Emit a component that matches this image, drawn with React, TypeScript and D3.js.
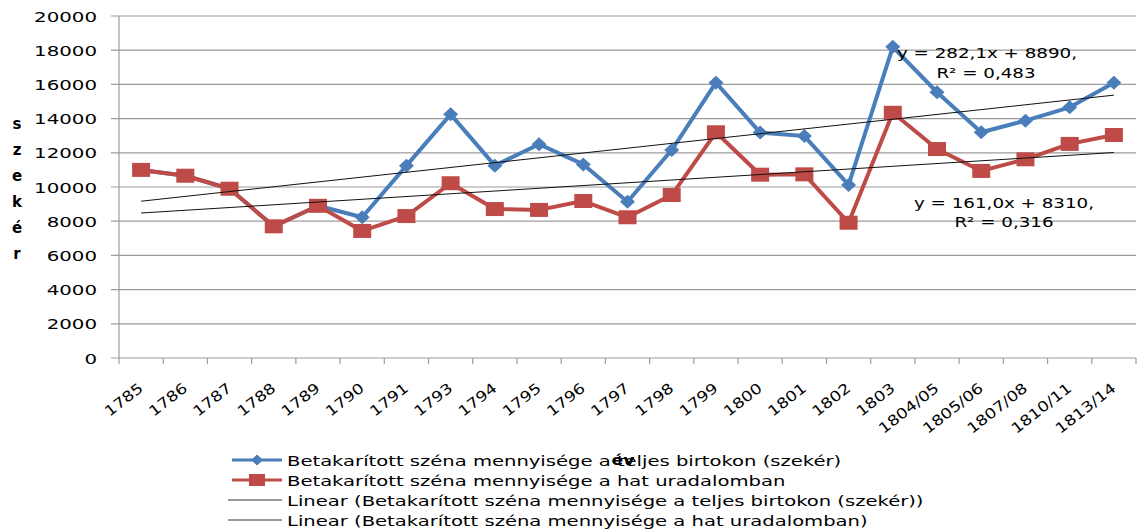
import React from "react";
import * as d3 from "d3";

const categories = ["1785","1786","1787","1788","1789","1790","1791","1793","1794","1795","1796","1797","1798","1799","1800","1801","1802","1803","1804/05","1805/06","1807/08","1810/11","1813/14"];
const fullEstate = [11000,10660,9900,7700,8900,8230,11250,14250,11250,12500,11320,9140,12160,16100,13180,12980,10120,18200,15540,13200,13880,14660,16100];
const sixDomains = [11000,10660,9900,7700,8900,7430,8300,10220,8710,8660,9180,8230,9530,13200,10720,10740,7910,14340,12220,10940,11620,12520,13040];
const yTicks = [0,2000,4000,6000,8000,10000,12000,14000,16000,18000,20000];
const yTitle = ["s","z","e","k","é","r"];
const xTitle = "év";
const seriesNames = [
  "Betakarított széna mennyisége a teljes birtokon (szekér)",
  "Betakarított széna mennyisége a hat uradalomban",
  "Linear (Betakarított széna mennyisége a teljes birtokon (szekér))",
  "Linear (Betakarított széna mennyisége a hat uradalomban)",
];
const eqFull = ["y = 282,1x + 8890,", "R² = 0,483"];
const eqSix = ["y = 161,0x + 8310,", "R² = 0,316"];

const W = 1137, H = 532;
const BLUE = "#4a7ebb", RED = "#be4b48";
const FONT = "DejaVu Sans";
const SX = 1.375;
const FS = 14.4;

function regress(vals: number[]) {
  const xs = vals.map((_, i) => i + 1);
  const mx = d3.mean(xs)!, my = d3.mean(vals)!;
  const b = d3.sum(xs.map((x, i) => (x - mx) * (vals[i] - my))) / d3.sum(xs.map(x => (x - mx) ** 2));
  const a = my - b * mx;
  return (x: number) => a + b * x;
}

function SText(props: any) {
  const { x, y, sx = SX, rotate, anchor = "start", size = FS, weight = "normal", children } = props;
  return (
    <text
      transform={`translate(${x},${y})${rotate ? ` rotate(${rotate})` : ""} scale(${sx},1)`}
      textAnchor={anchor}
      fontFamily={FONT}
      fontSize={size}
      fontWeight={weight}
      fill="#000"
    >
      {children}
    </text>
  );
}

export default function App() {
  const x = d3.scaleBand<string>().domain(categories).range([119, 1136]);
  const cx = (c: string) => x(c)! + x.bandwidth() / 2;
  const y = d3.scaleLinear().domain([0, 20000]).range([358, 16]);
  const line = d3.line<number>().x((_, i) => cx(categories[i])).y(v => y(v));
  const fFull = regress(fullEstate);
  const fSix = regress(sixDomains);
  const n = categories.length;
  const trend = (f: (x: number) => number) =>
    d3.line<number>().x(i => cx(categories[i - 1])).y(i => y(f(i)))([1, n]) || "";

  const diamond = (px: number, py: number, w = 7.5, h = 7) =>
    `M${px},${py - h}L${px + w},${py}L${px},${py + h}L${px - w},${py}Z`;

  const boundaries = [...categories.map(c => x(c)!), 1136];

  return (
    <svg width={W} height={H} style={{ position: "absolute", left: 0, top: 0, background: "#fff" }}>
      {/* gridlines */}
      {yTicks.map(t => (
        <line key={t} x1={111} x2={1136} y1={y(t)} y2={y(t)} stroke="#9c9c9c" strokeWidth={1.2} />
      ))}
      {/* y axis */}
      <line x1={119} x2={119} y1={16} y2={358} stroke="#9c9c9c" strokeWidth={1.2} />
      {boundaries.map((b, i) => (
        <line key={i} x1={b} x2={b} y1={358} y2={364} stroke="#9c9c9c" strokeWidth={1.2} />
      ))}
      {yTicks.map(t => (
        <SText key={t} x={97} y={y(t) + 5.5} anchor="end">{t}</SText>
      ))}
      {categories.map(c => (
        <SText key={c} x={cx(c) + 3} y={390} anchor="end" rotate={-38} sx={1.2}>{c}</SText>
      ))}
      {yTitle.map((ch, i) => (
        <text key={i} x={17} y={129 + i * 26} textAnchor="middle" fontFamily={FONT} fontSize={15} fontWeight="bold">{ch}</text>
      ))}

      {/* series: full estate (blue) */}
      <path d={line(fullEstate) || ""} fill="none" stroke={BLUE} strokeWidth={4} strokeLinejoin="round" />
      {fullEstate.map((v, i) => (
        <path key={i} d={diamond(cx(categories[i]), y(v))} fill={BLUE} />
      ))}
      {/* series: six domains (red) */}
      <path d={line(sixDomains) || ""} fill="none" stroke={RED} strokeWidth={4} strokeLinejoin="round" />
      {sixDomains.map((v, i) => (
        <rect key={i} x={cx(categories[i]) - 9} y={y(v) - 7} width={18} height={14} fill={RED} />
      ))}
      {/* trendlines */}
      <path d={trend(fFull)} fill="none" stroke="#111" strokeWidth={1} />
      <path d={trend(fSix)} fill="none" stroke="#111" strokeWidth={1} />

      {/* equations */}
      <SText x={987} y={58} anchor="middle" sx={1.27}>{eqFull[0]}</SText>
      <SText x={986} y={78} anchor="middle" sx={1.27}>{eqFull[1]}</SText>
      <SText x={1004} y={208} anchor="middle" sx={1.27}>{eqSix[0]}</SText>
      <SText x={1004} y={227} anchor="middle" sx={1.27}>{eqSix[1]}</SText>

      {/* legend */}
      <line x1={232} x2={282} y1={460} y2={460} stroke={BLUE} strokeWidth={3} />
      <path d={diamond(257, 460, 6, 5.5)} fill={BLUE} />
      <line x1={232} x2={282} y1={480} y2={480} stroke={RED} strokeWidth={3} />
      <rect x={249} y={474} width={16} height={12} fill={RED} />
      <line x1={228} x2={282} y1={500} y2={500} stroke="#333" strokeWidth={1} />
      <line x1={228} x2={282} y1={520} y2={520} stroke="#333" strokeWidth={1} />
      {seriesNames.map((s, i) => (
        <SText key={i} x={287} y={465.5 + i * 20} sx={1.36}>{s}</SText>
      ))}
      {/* x axis title (overlaps legend as in original) */}
      <SText x={623} y={465} anchor="middle" weight="bold" sx={1.2}>{xTitle}</SText>
    </svg>
  );
}
